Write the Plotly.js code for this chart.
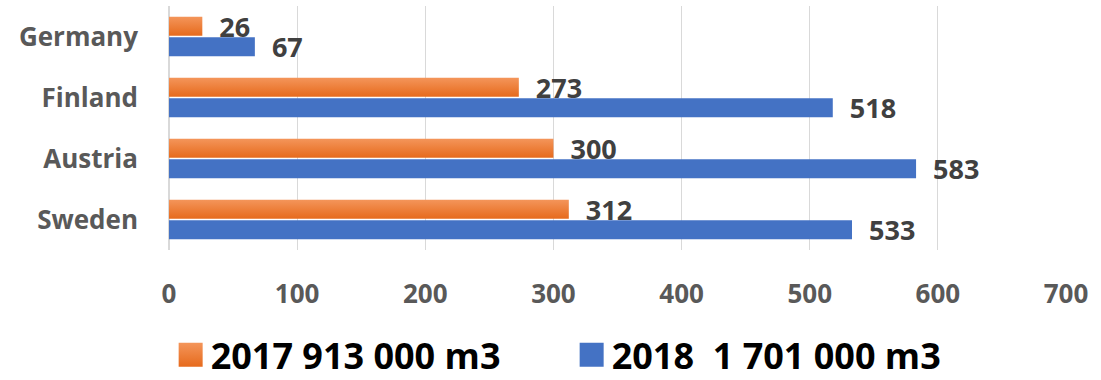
<!DOCTYPE html>
<html>
<head>
<meta charset="utf-8">
<script src="https://cdn.plot.ly/plotly-3.0.1.min.js"></script>
<style>
  html, body { margin: 0; padding: 0; background: #fff; }
  #chart { width: 1101px; height: 380px; }
  .legend .legendpoints path { d: path("M12,12H-12V-12H12Z"); }
  .plot .bars path { filter: drop-shadow(2px 3px 2px rgba(0,0,0,0.35)); }
</style>
</head>
<body>
<svg width="0" height="0" style="position:absolute">
  <defs>
    <linearGradient id="orangeGrad" x1="0" y1="0" x2="0" y2="1">
      <stop offset="0" stop-color="#F4955A"/>
      <stop offset="1" stop-color="#E66A1C"/>
    </linearGradient>
  </defs>
</svg>
<div id="chart"></div>
<script>
// Categories listed bottom to top
const countries = ['Sweden', 'Austria', 'Finland', 'Germany'];
const values2017 = [312, 300, 273, 26];
const values2018 = [533, 583, 518, 67];
const seriesNames = ['2017 913 000 m3', '2018\u00a0 1 701 000 m3'];
const xTicks = [0, 100, 200, 300, 400, 500, 600, 700];

const orange = '#EE7A30';
const blue = '#4472C4';
const labelFont = { family: 'Open Sans, sans-serif', size: 27, color: '#404040', weight: 'bold' };

const traces = [
  {
    type: 'bar', orientation: 'h', name: seriesNames[1],
    y: countries, x: values2018,
    marker: { color: blue },
    texttemplate: '\u00a0\u00a0%{x}', textposition: 'outside', constraintext: 'none',
    textfont: labelFont, cliponaxis: false, hoverinfo: 'x+y'
  },
  {
    type: 'bar', orientation: 'h', name: seriesNames[0],
    y: countries, x: values2017,
    marker: { color: orange },
    texttemplate: '\u00a0\u00a0%{x}', textposition: 'outside', constraintext: 'none',
    textfont: labelFont, cliponaxis: false, hoverinfo: 'x+y'
  }
];

const layout = {
  width: 1101, height: 380,
  margin: { l: 169, r: 35, t: 6, b: 130 },
  paper_bgcolor: '#ffffff', plot_bgcolor: '#ffffff',
  barmode: 'group', bargap: 0.33, bargroupgap: 0.07,
  font: { family: 'Open Sans, sans-serif' },
  xaxis: {
    range: [0, 700], tickvals: xTicks, ticktext: xTicks.map(String),
    showgrid: true, gridcolor: '#D9D9D9', gridwidth: 1,
    zeroline: true, zerolinecolor: '#D9D9D9', zerolinewidth: 2,
    showline: false, ticks: 'outside', ticklen: 21, tickcolor: 'rgba(0,0,0,0)',
    tickfont: { family: 'Open Sans, sans-serif', size: 26, color: '#595959', weight: 'bold' },
    fixedrange: true
  },
  yaxis: {
    type: 'category', categoryorder: 'array', categoryarray: countries,
    showgrid: false, zeroline: false, showline: false,
    ticks: '', ticklabelstandoff: 30,
    tickfont: { family: 'Open Sans, sans-serif', size: 26, color: '#595959', weight: 'bold' },
    fixedrange: true
  },
  showlegend: true,
  legend: {
    orientation: 'h', traceorder: 'reversed', entrywidth: 356,
    xref: 'container', yref: 'container',
    x: 0.155, xanchor: 'left', y: 0.066, yanchor: 'middle',
    font: { family: 'Open Sans, sans-serif', size: 36, color: '#000000', weight: 'bold' },
    bgcolor: 'rgba(0,0,0,0)'
  }
};

Plotly.newPlot('chart', traces, layout, { displayModeBar: false, staticPlot: true }).then(function (gd) {
  // give the 2017 bars the soft vertical orange gradient seen in the reference
  gd.querySelectorAll('.barlayer .trace.bars').forEach(function (g) {
    const paths = g.querySelectorAll('.point path');
    paths.forEach(function (p) {
      const f = (p.style.fill || '').replace(/\s/g, '');
      if (f === 'rgb(238,122,48)') p.style.fill = 'url(#orangeGrad)';
    });
  });
  gd.querySelectorAll('.legend .legendpoints path').forEach(function (p) {
    const f = (p.style.fill || '').replace(/\s/g, '');
    if (f === 'rgb(238,122,48)') p.style.fill = 'url(#orangeGrad)';
  });
});
</script>
</body>
</html>
